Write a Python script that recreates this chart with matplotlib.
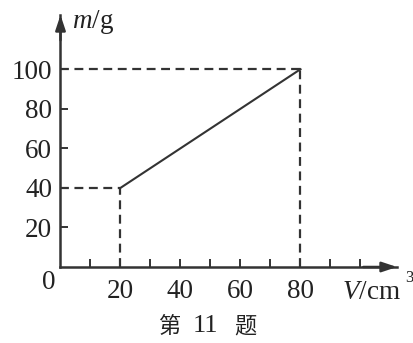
import matplotlib
matplotlib.use("Agg")
import matplotlib.pyplot as plt

# data
volume = [20, 80]          # V / cm^3
mass = [40, 100]           # m / g
x_ticks = [10, 20, 30, 40, 50, 60, 70, 80, 90, 100]
x_labels = ["", "20", "", "40", "", "60", "", "80", "", ""]
y_ticks = [20, 40, 60, 80, 100]
y_labels = ["20", "40", "60", "80", "100"]

plt.rcParams['font.family'] = ['Liberation Serif', 'Noto Sans CJK SC']
plt.rcParams['mathtext.fontset'] = 'custom'
plt.rcParams['mathtext.rm'] = 'Liberation Serif'
plt.rcParams['mathtext.it'] = 'Liberation Serif:italic'

ink = '#333333'
txt = '#222222'
W, H = 414, 343
x0, y0 = 60.5, 267      # origin in pixels
x_end, y_end = 397, 15  # arrow tips
sx, sy = 3.0, 1.978     # pixels per unit

fig = plt.figure(figsize=(W / 100, H / 100), dpi=100)
ax = fig.add_axes([x0 / W, (H - y0) / H, (x_end - x0) / W, (y0 - y_end) / H])
ax.set_xlim(0, (x_end - x0) / sx)
ax.set_ylim(0, (y0 - y_end) / sy)

for side in ['top', 'right']:
    ax.spines[side].set_visible(False)
for side in ['left', 'bottom']:
    ax.spines[side].set_linewidth(1.8)
    ax.spines[side].set_color(ink)

ax.set_xticks(x_ticks)
ax.set_xticklabels(x_labels)
ax.set_yticks(y_ticks)
ax.set_yticklabels(y_labels)
ax.tick_params(direction='in', length=6, width=1.4, color=ink,
               labelsize=19.5, labelcolor=txt)
ax.tick_params(axis='x', pad=9)
ax.tick_params(axis='y', pad=6)

# arrow heads
ax.annotate('', xy=(0, 1), xytext=(0, 0.9), xycoords='axes fraction',
            arrowprops=dict(arrowstyle='-|>,head_length=0.9,head_width=0.3',
                            color=ink, lw=1.8, shrinkA=0, shrinkB=0))
ax.annotate('', xy=(1, 0), xytext=(0.9, 0), xycoords='axes fraction',
            arrowprops=dict(arrowstyle='-|>,head_length=0.9,head_width=0.3',
                            color=ink, lw=1.8, shrinkA=0, shrinkB=0))

# dashed guides
dash = dict(color=ink, lw=1.6, linestyle=(0, (4, 2.5)), clip_on=False)
for v, m in zip(volume, mass):
    ax.plot([0, v], [m, m], **dash)
    ax.plot([v, v], [0, m], **dash)

ax.plot(volume, mass, color=ink, lw=1.5)

ax.text(-4, -8, '0', fontsize=19.5, color=txt, ha='center', va='center')
ax.text(4, 124, r'$m$/g', fontsize=19.5, color=txt, ha='left', va='center')
ax.text(94, -13, r'$V$/cm', fontsize=19.5, color=txt, ha='left', va='center')
ax.text(114.8, -5.5, '3', fontsize=12, color=txt, ha='left', va='center')

# caption
cy = 1 - 326 / H
fig.text(169.5 / W, cy, '第', fontsize=16, color=txt, ha='center', va='center',
         family='Noto Sans CJK SC')
fig.text(205 / W, cy, '11', fontsize=19, color=txt, ha='center', va='center')
fig.text(245 / W, cy, '题', fontsize=16, color=txt, ha='center', va='center',
         family='Noto Sans CJK SC')

fig.savefig('out.png', dpi=100)
